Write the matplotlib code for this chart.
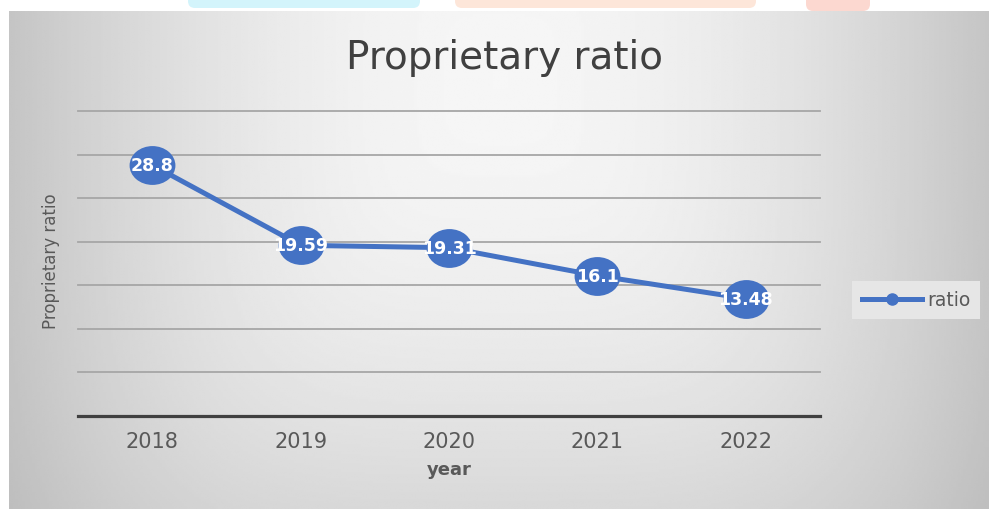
import numpy as np
from matplotlib import pyplot as plt
from matplotlib.path import Path
from matplotlib.patches import FancyBboxPatch
from matplotlib.lines import Line2D
from matplotlib.transforms import Affine2D


years = ['2018', '2019', '2020', '2021', '2022']
ratio = [28.8, 19.59, 19.31, 16.1, 13.48]
y_ticks = [0, 5, 10, 15, 20, 25, 30, 35]

BLUE = '#4472C4'
TEXT = '#595959'

plt.rcParams['font.family'] = ['DejaVu Sans']

W, H = 989, 510
fig = plt.figure(figsize=(W / 100, H / 100), dpi=100)
fig.patch.set_facecolor('white')


############# background #############

def chart_background(x0, y0, x1, y1, cx, cy):
    xs = np.linspace(x0, x1, 400)
    ys = np.linspace(y0, y1, 220)
    X, Y = np.meshgrid(xs, ys)
    dx = np.abs(X - cx) / 500
    dy = np.abs(Y - cy) / 580
    r = (dx ** 4 + dy ** 4) ** 0.25
    return 0.965 - 0.2 * r ** 1.8


bg = fig.add_axes([0, 0, 1, 1], zorder=-5)
bg.set_xlim(0, W)
bg.set_ylim(H, 0)
bg.axis('off')

shade = chart_background(9, 12, W, H, 500, 80)
bg.imshow(shade, extent=(9, W, H, 12), cmap='gray', vmin=0, vmax=1,
          aspect='auto', interpolation='bilinear')

# coloured tabs of the page header above the chart
for x0, x1, y1, col in [(188, 420, 9, '#d3f4fb'),
                        (455, 756, 9, '#fde6d9'),
                        (806, 870, 12, '#fcd8d0')]:
    bg.add_patch(FancyBboxPatch((x0, -20), x1 - x0, 20 + y1,
                                boxstyle='round,pad=0,rounding_size=7',
                                facecolor=col, edgecolor='none'))
bg.set_xlim(0, W)
bg.set_ylim(H, 0)


############# line chart #############

ax = fig.add_axes([78 / W, 93 / H, 742 / W, 305 / H])
ax.patch.set_visible(False)

x = np.arange(len(years))

# slightly wide ellipse, like the stretched markers of the original sheet
ellipse = Path.unit_circle().transformed(Affine2D().scale(1.18, 1.0))

ax.plot(x, ratio, color=BLUE, lw=3.6, marker=ellipse, ms=33,
        markeredgecolor='none', solid_capstyle='round', zorder=3)

for xi, v in zip(x, ratio):
    ax.text(xi, v, '%g' % v, ha='center', va='center', color='white',
            fontsize=12.5, fontweight='bold', zorder=4)

ax.set_xlim(-0.5, len(years) - 0.5)
ax.set_ylim(y_ticks[0], y_ticks[-1])
ax.set_yticks(y_ticks)
ax.set_yticklabels([])
ax.set_xticks(x)
ax.set_xticklabels(years)
ax.tick_params(axis='both', length=0)
ax.tick_params(axis='x', pad=11, labelsize=15, labelcolor=TEXT)
ax.grid(axis='y', color='#a6a6a6', lw=1.3)
for gl in ax.get_ygridlines():
    gl.set_clip_on(False)
ax.set_axisbelow(True)

for side in ['left', 'right', 'top']:
    ax.spines[side].set_visible(False)
ax.spines['bottom'].set_color('#404040')
ax.spines['bottom'].set_linewidth(2.3)
ax.spines['bottom'].set_zorder(2.5)

ax.set_xlabel('year', fontsize=13, fontweight='bold', color=TEXT, labelpad=6)
ax.set_ylabel('Proprietary ratio', fontsize=12, color=TEXT)
ax.yaxis.set_label_coords(-0.024, 0.51)

fig.text(504 / W, 1 - 58 / H, 'Proprietary ratio', ha='center', va='center',
         fontsize=28, color='#404040')

handle = Line2D([], [], color=BLUE, lw=3.6, marker='o', ms=8)
leg = fig.legend([handle], ['ratio'], loc='center left',
                 bbox_to_anchor=(843 / W, 1 - 301 / H),
                 frameon=True, facecolor='#e6e6e6', edgecolor='none',
                 fancybox=False, fontsize=13.5, handlelength=3.2,
                 handletextpad=0.3, borderpad=0.5, framealpha=1)
for t in leg.get_texts():
    t.set_color(TEXT)

fig.savefig('out.png', dpi=100)
